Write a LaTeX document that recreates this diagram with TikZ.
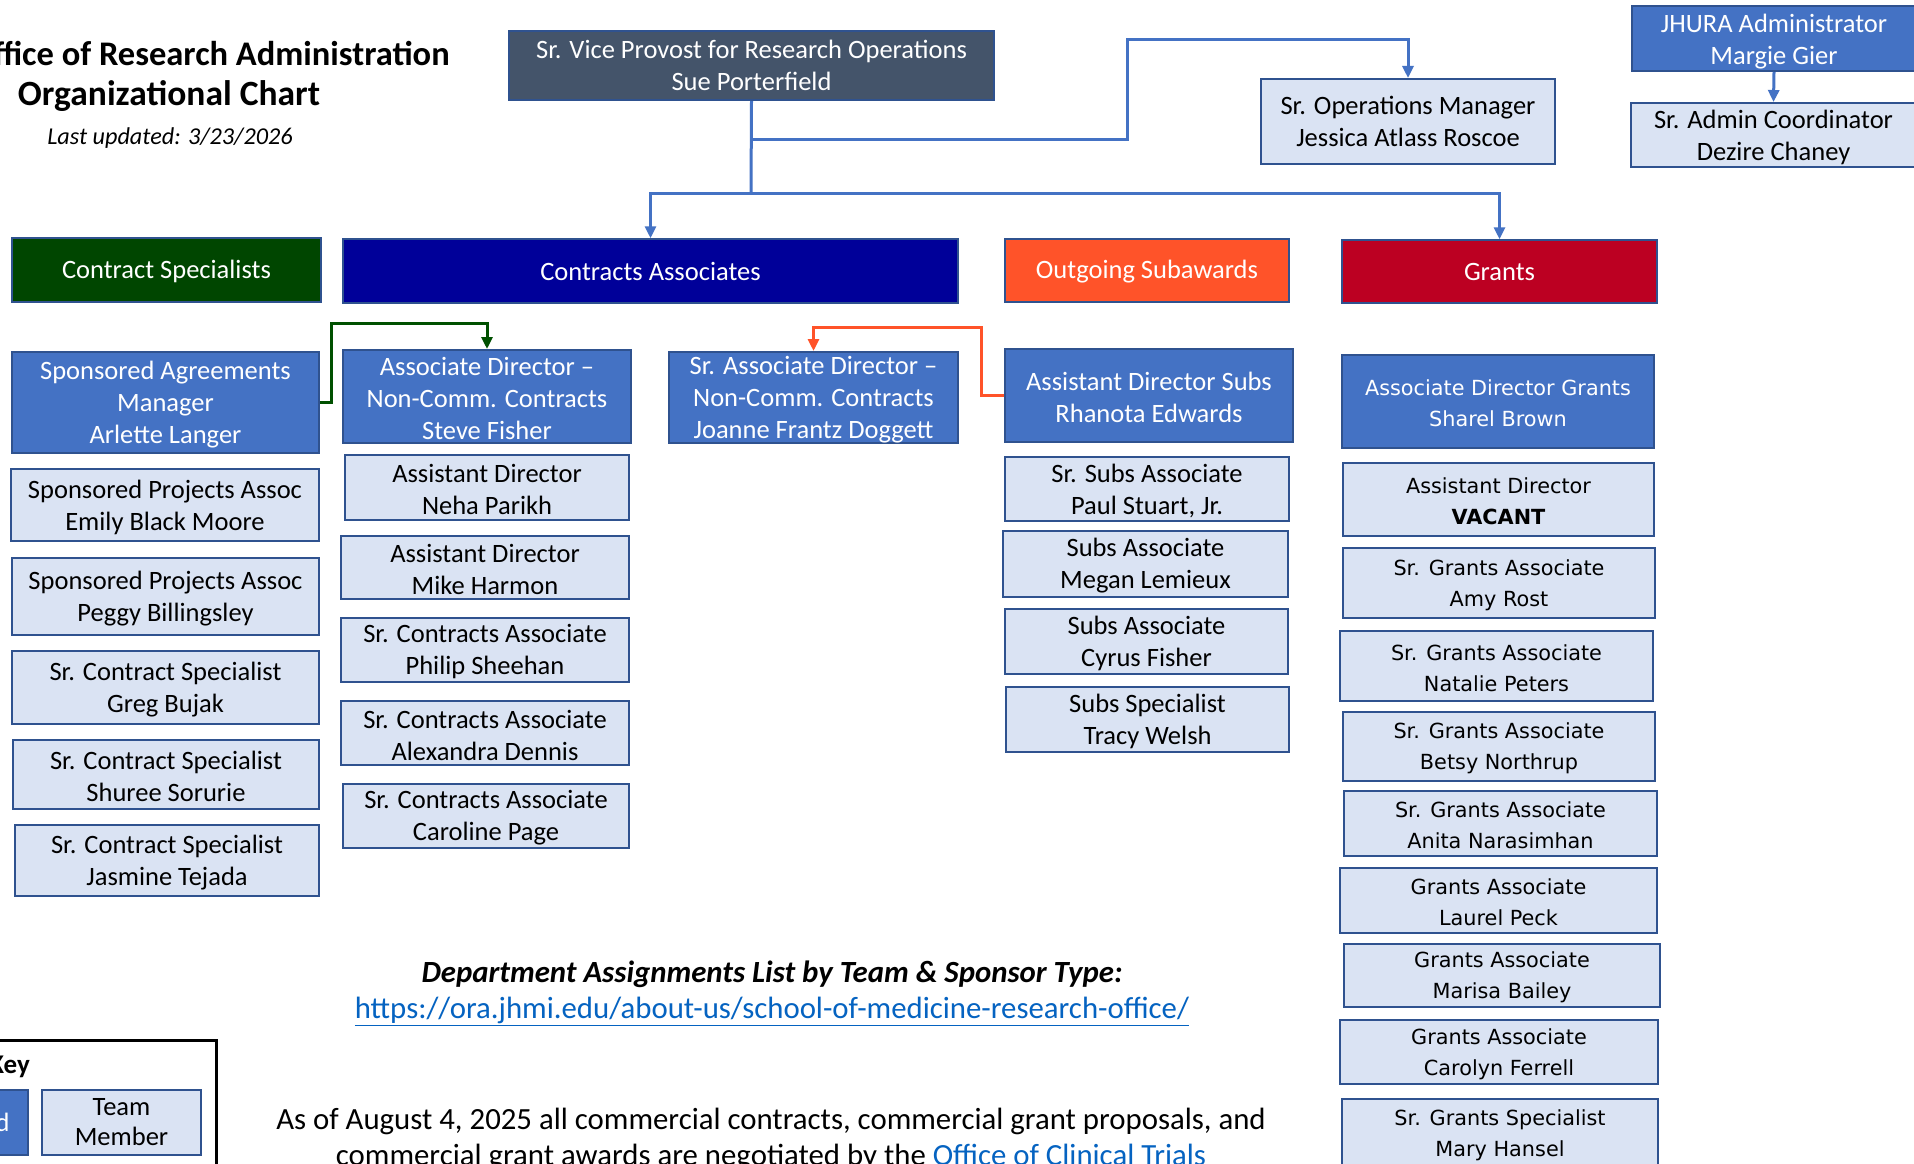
\documentclass[tikz,border=0pt]{standalone}
\usepackage{fontspec}
\setmainfont{Carlito}
\newfontfamily\dvs{DejaVu Sans}
\usetikzlibrary{arrows.meta}
\definecolor{slate}{HTML}{44546A}
\definecolor{mblue}{HTML}{4472C4}
\definecolor{bord}{HTML}{2F528F}
\definecolor{lfill}{HTML}{DAE3F3}
\definecolor{cgreen}{HTML}{004600}
\definecolor{cnavy}{HTML}{000099}
\definecolor{corange}{HTML}{FF5329}
\definecolor{ccrim}{HTML}{BC0022}
\definecolor{linkc}{HTML}{0563C1}
\definecolor{gline}{HTML}{005000}
\newcommand\bx[7]{%
  \node[#6, minimum width={#4-#2}, minimum height={#5-#3}] (#1) at ({(#2+#4)/2},{(#3+#5)/2}) {};
  \node[#6, draw=none, fill=none, txtoff] (#1t) at (#1.center) {#7};}
\tikzset{
  txtoff/.style={yshift=-2pt},
  basebox/.style={rectangle, inner sep=0pt, align=center, line width=2pt, draw=bord, font=\fontsize{26.5}{32}\selectfont},
  lbox/.style={basebox, fill=lfill, text=black},
  dbox/.style={basebox, fill=mblue, text=white},
  glbox/.style={lbox, font=\dvs\fontsize{20.8}{31}\selectfont},
  gdbox/.style={dbox, font=\dvs\fontsize{20.8}{31}\selectfont},
  hdr/.style={basebox, line width=1.5pt, text=white, txtoff/.style={yshift=-1pt}},
  noff/.style={txtoff/.style={yshift=0pt}},
  conn/.style={draw=mblue, line width=3pt},
  arr/.style={-{Triangle[length=12pt,width=11pt]}},
  freetxt/.style={inner sep=0pt, align=center}
}
\begin{document}
\begin{tikzpicture}[x=1pt,y=-1pt]
\useasboundingbox (0,0) rectangle (1914,1164);
\clip (0,0) rectangle (1914,1164);
\fill[white] (0,0) rectangle (1914,1164);

% title
\node[freetxt, anchor=east, font=\bfseries\fontsize{34.5}{42}\selectfont] (title1) at (450,53.5) {Office of Research Administration};
\node[freetxt, font=\bfseries\fontsize{35.5}{42}\selectfont] (title2) at (169,96) {Organizational Chart};
\node[freetxt, font=\itshape\fontsize{24.2}{29}\selectfont] (upd) at (170,138.5) {Last updated: 3/23/2026};

% top level
\bx{vp}{509}{31}{994}{100}{basebox, fill=slate, text=white, noff}{Sr. Vice Provost for Research Operations\\Sue Porterfield}
\bx{ops}{1261}{79}{1555}{164}{lbox, noff}{Sr. Operations Manager\\Jessica Atlass Roscoe}
\bx{jhura}{1632}{6}{1916}{71}{dbox, txtoff/.style={yshift=-3.5pt}}{JHURA Administrator\\Margie Gier}
\bx{admin}{1631}{103}{1916}{167}{lbox, txtoff/.style={yshift=-2.5pt}}{Sr. Admin Coordinator\\Dezire Chaney}

% headers
\bx{cs}{12}{238}{321}{302}{hdr, fill=cgreen}{Contract Specialists}
\bx{ca}{343}{239}{958}{303}{hdr, fill=cnavy, noff}{Contracts Associates}
\bx{os}{1005}{239}{1289}{302}{hdr, fill=corange}{Outgoing Subawards}
\bx{gr}{1342}{240}{1657}{303}{hdr, fill=ccrim, noff}{Grants}

% contract specialists column
\bx{sam}{12}{352}{319}{453}{dbox}{Sponsored Agreements\\Manager\\Arlette Langer}
\bx{cs1}{11}{469}{319}{541}{lbox}{Sponsored Projects Assoc\\Emily Black Moore}
\bx{cs2}{12}{558}{319}{635}{lbox}{Sponsored Projects Assoc\\Peggy Billingsley}
\bx{cs3}{12}{651}{319}{724}{lbox}{Sr. Contract Specialist\\Greg Bujak}
\bx{cs4}{13}{740}{319}{809}{lbox}{Sr. Contract Specialist\\Shuree Sorurie}
\bx{cs5}{15}{825}{319}{896}{lbox}{Sr. Contract Specialist\\Jasmine Tejada}

% contracts associates column
\bx{adnc}{343}{350}{631}{443}{dbox}{Associate Director --\\Non-Comm. Contracts\\Steve Fisher}
\bx{ca1}{345}{455}{629}{520}{lbox}{Assistant Director\\Neha Parikh}
\bx{ca2}{341}{536}{629}{599}{lbox}{Assistant Director\\Mike Harmon}
\bx{ca3}{341}{618}{629}{682}{lbox}{Sr. Contracts Associate\\Philip Sheehan}
\bx{ca4}{341}{701}{629}{765}{lbox}{Sr. Contracts Associate\\Alexandra Dennis}
\bx{ca5}{343}{784}{629}{848}{lbox}{Sr. Contracts Associate\\Caroline Page}
\bx{sad}{669}{352}{958}{443}{dbox}{Sr. Associate Director --\\Non-Comm. Contracts\\Joanne Frantz Doggett}

% subawards column
\bx{rh}{1005}{349}{1293}{442}{dbox}{Assistant Director Subs\\Rhanota Edwards}
\bx{os1}{1005}{457}{1289}{521}{lbox}{Sr. Subs Associate\\Paul Stuart, Jr.}
\bx{os2}{1003}{531}{1288}{597}{lbox}{Subs Associate\\Megan Lemieux}
\bx{os3}{1005}{609}{1288}{674}{lbox}{Subs Associate\\Cyrus Fisher}
\bx{os4}{1006}{687}{1289}{752}{lbox}{Subs Specialist\\Tracy Welsh}

% grants column
\bx{adg}{1342}{355}{1654}{448}{gdbox}{Associate Director Grants\\Sharel Brown}
\bx{gr1}{1343}{463}{1654}{536}{glbox}{Assistant Director\\\textbf{VACANT}}
\bx{gr2}{1343}{548}{1655}{618}{glbox}{Sr. Grants Associate\\Amy Rost}
\bx{gr3}{1340}{631}{1653}{701}{glbox}{Sr. Grants Associate\\Natalie Peters}
\bx{gr4}{1343}{712}{1655}{781}{glbox}{Sr. Grants Associate\\Betsy Northrup}
\bx{gr5}{1344}{791}{1657}{856}{glbox}{Sr. Grants Associate\\Anita Narasimhan}
\bx{gr6}{1340}{868}{1657}{933}{glbox}{Grants Associate\\Laurel Peck}
\bx{gr7}{1344}{944}{1660}{1007}{glbox}{Grants Associate\\Marisa Bailey}
\bx{gr8}{1340}{1020}{1658}{1084}{glbox}{Grants Associate\\Carolyn Ferrell}
\bx{gr9}{1342}{1099}{1658}{1170}{glbox, txtoff/.style={yshift=-1pt}}{Sr. Grants Specialist\\Mary Hansel}

% connectors
\coordinate (j1) at (751,193);
\coordinate (j2) at (751,139);
\coordinate (j3) at (1127,40);
\draw[conn] (vp.south) -- (j1);
\draw[conn,arr] (j1) -| (ca.north);
\draw[conn,arr] (j1) -| (gr.north);
\draw[conn,arr] (j2) -| (j3) -| (ops.north);
\draw[conn,arr] (jhura.south) -- (admin.north);
\coordinate (g1) at (331,323);
\draw[draw=gline, line width=3pt, arr] (sam.east) -| (g1) -| (adnc.north);
\coordinate (o1) at (981,327);
\draw[draw=corange, line width=3pt, arr] (rh.west) -| (o1) -| (sad.north);

% bottom texts
\node[freetxt, font=\bfseries\itshape\fontsize{30.8}{36}\selectfont] (dept) at (772,974.5) {Department Assignments List by Team \& Sponsor Type:};
\node[freetxt, text=linkc, font=\fontsize{30.8}{36}\selectfont] (url) at (772,1011.5) {\underline{https://ora.jhmi.edu/about-us/school-of-medicine-research-office/}};
\node[freetxt, font=\fontsize{30.8}{35.5}\selectfont] (note) at (771,1139.5) {As of August 4, 2025 all commercial contracts, commercial grant proposals, and\\commercial grant awards are negotiated by the \textcolor{linkc}{\underline{Office of Clinical Trials}}};

% key
\node[draw=black, line width=3pt, minimum width=300, minimum height=160, inner sep=0pt] (keybox) at (66,1120) {};
\node[anchor=east, inner sep=0pt, font=\bfseries\fontsize{27}{32}\selectfont] (keyt) at (30,1067) {Key};
\bx{klead}{-60}{1090}{28}{1155}{dbox, noff}{Lead}
\bx{kteam}{42}{1090}{201}{1155}{lbox, noff, font=\fontsize{26.5}{30}\selectfont}{Team\\Member}
\end{tikzpicture}
\end{document}
